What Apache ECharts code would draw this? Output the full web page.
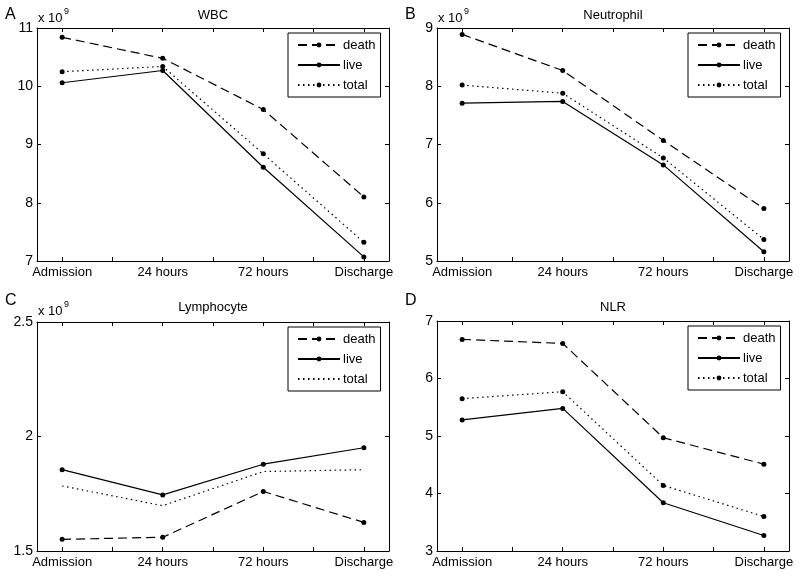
<!DOCTYPE html>
<html>
<head>
<meta charset="utf-8">
<script src="https://cdn.jsdelivr.net/npm/echarts@6/dist/echarts.min.js"></script>
<style>
html,body{margin:0;padding:0;background:#fff;}
#c{width:800px;height:585px;}
</style>
</head>
<body>
<div id="c"></div>
<script>
// ---- data ----
const categories = ['Admission', '24 hours', '72 hours', 'Discharge'];
const seriesNames = ['death', 'live', 'total'];

const wbcDeath = [10.84, 10.48, 9.60, 8.10];
const wbcLive  = [10.06, 10.27, 8.61, 7.07];
const wbcTotal = [10.25, 10.34, 8.84, 7.32];

const neuDeath = [8.89, 8.27, 7.07, 5.90];
const neuLive  = [7.71, 7.74, 6.65, 5.16];
const neuTotal = [8.02, 7.88, 6.77, 5.37];

const lymDeath = [1.551, 1.560, 1.760, 1.625];
const lymLive  = [1.855, 1.745, 1.879, 1.951];
const lymTotal = [1.784, 1.698, 1.847, 1.855];

const nlrDeath = [6.68, 6.61, 4.97, 4.51];
const nlrLive  = [5.28, 5.48, 3.84, 3.27];
const nlrTotal = [5.65, 5.77, 4.14, 3.60];

const panelTitles = ['WBC', 'Neutrophil', 'Lymphocyte', 'NLR'];
const panelLetters = ['A', 'B', 'C', 'D'];
const yMin = [7, 5, 1.5, 3];
const yMax = [11, 9, 2.5, 7];
const yInterval = [1, 1, 0.5, 1];
const multiplierText = 'x 10';
const multiplierExp = '9';
const showMultiplier = [true, true, true, false];

const panelData = [
  [wbcDeath, wbcLive, wbcTotal],
  [neuDeath, neuLive, neuTotal],
  [lymDeath, lymLive, lymTotal],
  [nlrDeath, nlrLive, nlrTotal]
];
// total series in panel C drawn without markers
const totalMarkers = [true, true, false, true];

// ---- layout ----
const FONT = '"Liberation Sans", Arial, sans-serif';
const grids = [
  {left: 37, top: 28, width: 352, height: 233},
  {left: 437, top: 28, width: 352, height: 233},
  {left: 37, top: 322, width: 352, height: 229},
  {left: 437, top: 321, width: 352, height: 230}
];
const titleY = [15, 15, 307, 307];    // centre y of panel titles
const letterY = [15, 15, 301, 301];   // centre y of panel letters
const multY = [18, 18, 311, 311];     // centre y of "x 10"
const tickVals = [1, 1.5, 2, 2.5, 3, 3.5, 4];
const labelVals = [1, 2, 3, 4];

const lineTypes = {
  death: [9, 5],
  live: 'solid',
  total: [1.5, 3.5]
};

const option = {
  animation: false,
  backgroundColor: '#fff',
  textStyle: {fontFamily: FONT, color: '#000'},
  grid: grids.map(g => Object.assign({containLabel: false, show: false}, g)),
  xAxis: [],
  yAxis: [],
  series: [],
  legend: [],
  graphic: []
};

grids.forEach((g, p) => {
  const axLine = {show: true, lineStyle: {color: '#000', width: 1}};
  const tick = {show: true, inside: true, length: 4, lineStyle: {color: '#000'}};
  option.xAxis.push({
    type: 'value', gridIndex: p, position: 'bottom', min: 0.75, max: 4.25,
    axisLine: axLine,
    axisTick: Object.assign({customValues: tickVals}, tick),
    axisLabel: {customValues: labelVals, formatter: v => categories[Math.round(v) - 1],
      color: '#000', fontSize: 13, fontFamily: FONT, margin: 5},
    splitLine: {show: false}
  });
  option.xAxis.push({
    type: 'value', gridIndex: p, position: 'top', min: 0.75, max: 4.25,
    axisLine: axLine,
    axisTick: Object.assign({customValues: tickVals}, tick),
    axisLabel: {show: false},
    splitLine: {show: false}
  });
  option.yAxis.push({
    type: 'value', gridIndex: p, position: 'left', min: yMin[p], max: yMax[p], interval: yInterval[p],
    axisLine: axLine, axisTick: tick,
    axisLabel: {color: '#000', fontSize: 14, fontFamily: FONT, margin: 4},
    splitLine: {show: false}
  });
  option.yAxis.push({
    type: 'value', gridIndex: p, position: 'right', min: yMin[p], max: yMax[p], interval: yInterval[p],
    axisLine: axLine, axisTick: tick,
    axisLabel: {show: false},
    splitLine: {show: false}
  });

  const legendData = [];
  seriesNames.forEach((nm, s) => {
    const hasSym = !(nm === 'total' && !totalMarkers[p]);
    const sName = panelLetters[p] + '|' + nm;
    legendData.push(hasSym ? {name: sName} : {name: sName, itemStyle: {opacity: 0}});
    option.series.push({
      type: 'line', name: sName,
      xAxisIndex: p * 2, yAxisIndex: p * 2,
      data: panelData[p][s].map((v, i) => [i + 1, v]),
      symbol: hasSym ? 'circle' : 'none',
      symbolSize: 5,
      showSymbol: hasSym,
      itemStyle: {color: '#000'},
      lineStyle: {color: '#000', width: 1.2, type: lineTypes[nm]},
      z: 3 - s
    });
  });

  option.legend.push({
    data: legendData,
    orient: 'vertical',
    left: g.left + 251,
    top: g.top + 5,
    itemWidth: 42,
    itemHeight: 6,
    itemGap: 6,
    padding: [5, 5, 5, 9],
    borderColor: '#000',
    borderWidth: 1,
    backgroundColor: '#fff',
    selectedMode: false,
    formatter: n => n.split('|')[1],
    textStyle: {fontSize: 13, lineHeight: 14, color: '#000', fontFamily: FONT, padding: [0, 0, 0, -2]}
  });

  option.graphic.push({
    type: 'text', x: g.left + g.width / 2, y: titleY[p], silent: true,
    style: {text: panelTitles[p], fill: '#000', font: '13px ' + FONT, align: 'center', verticalAlign: 'middle'}
  });
  option.graphic.push({
    type: 'text', x: g.left - 32, y: letterY[p], silent: true,
    style: {text: panelLetters[p], fill: '#000', font: '16px ' + FONT, align: 'left', verticalAlign: 'middle'}
  });
  if (showMultiplier[p]) {
    option.graphic.push({
      type: 'text', x: g.left + 1, y: multY[p], silent: true,
      style: {text: multiplierText, fill: '#000', font: '13px ' + FONT, align: 'left', verticalAlign: 'middle'}
    });
    option.graphic.push({
      type: 'text', x: g.left + 27, y: multY[p] - 6, silent: true,
      style: {text: multiplierExp, fill: '#000', font: '9px ' + FONT, align: 'left', verticalAlign: 'middle'}
    });
  }
});

const chart = echarts.init(document.getElementById('c'), null, {renderer: 'canvas'});
chart.setOption(option);
</script>
</body>
</html>
